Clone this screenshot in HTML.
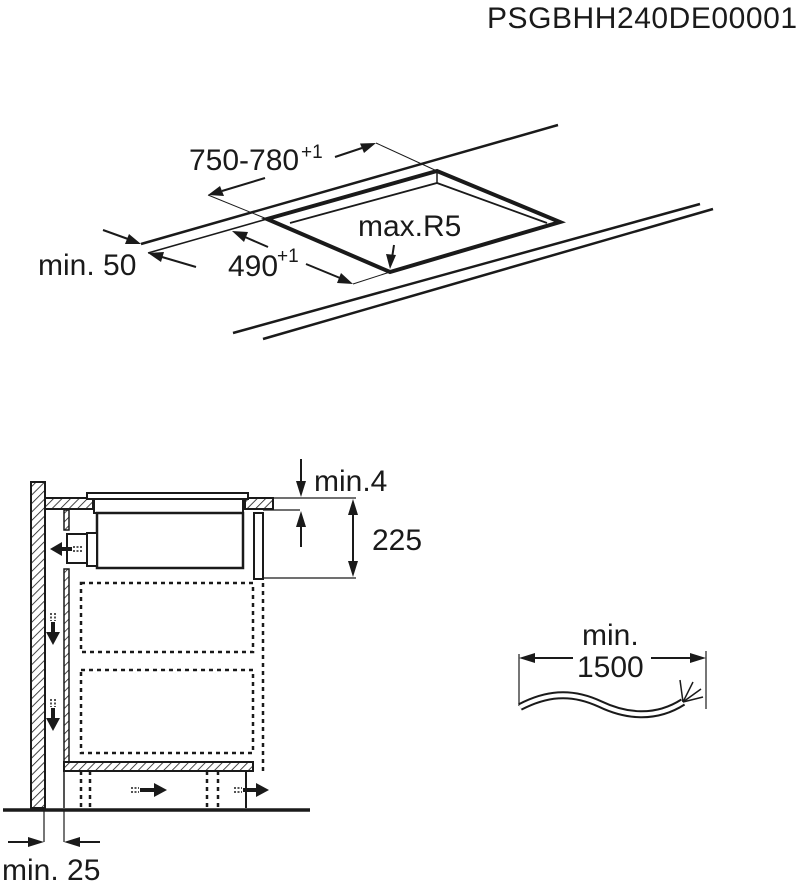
<!DOCTYPE html>
<html><head><meta charset="utf-8"><style>
html,body{margin:0;padding:0;background:#fff;}
svg{display:block;}
text{font-family:"Liberation Sans",Arial,sans-serif;fill:#1a1a1a;}
</style></head><body>
<svg width="800" height="883" viewBox="0 0 800 883" xmlns="http://www.w3.org/2000/svg">
<defs>
<pattern id="h" width="6" height="6" patternUnits="userSpaceOnUse" patternTransform="rotate(45)">
<rect width="6" height="6" fill="#fff"/><line x1="0" y1="0" x2="0" y2="6" stroke="#1a1a1a" stroke-width="1.6"/>
</pattern>
</defs>
<g stroke="#1a1a1a" fill="none" stroke-linecap="butt">
<text x="487" y="28" font-size="30" textLength="310" stroke="none">PSGBHH240DE00001</text>

<!-- top diagram -->
<line x1="141" y1="244" x2="558" y2="125" stroke-width="2.5"/>
<line x1="148" y1="253" x2="267" y2="219" stroke-width="1.5"/>
<line x1="233" y1="333" x2="700" y2="204" stroke-width="2.5"/>
<line x1="263" y1="339" x2="713" y2="209" stroke-width="2.5"/>
<polygon points="267,219 437,171 560,222 390,272" stroke-width="4" fill="#fff"/>
<polyline points="290,223 437,183 547,223" stroke-width="1.8"/>
<line x1="437" y1="171" x2="437" y2="183" stroke-width="1.5"/>
<line x1="208" y1="195" x2="267" y2="219" stroke-width="1"/>
<line x1="376" y1="143" x2="437" y2="171" stroke-width="1"/>
<line x1="390" y1="272" x2="353" y2="284" stroke-width="1"/>
<text x="189" y="170" font-size="30" stroke="none">750-780</text>
<text x="301" y="158" font-size="19" stroke="none">+1</text>
<text x="358" y="236" font-size="30" stroke="none">max.R5</text>
<text x="38" y="275" font-size="30" stroke="none">min. 50</text>
<text x="228" y="276" font-size="30" stroke="none">490</text>
<text x="277" y="262" font-size="19" stroke="none">+1</text>

<!-- lower diagram -->
<rect x="31" y="482" width="14" height="326" fill="url(#h)" stroke-width="2"/>
<rect x="45" y="498" width="48" height="11" fill="url(#h)" stroke-width="2"/>
<rect x="245" y="498" width="28" height="11" fill="url(#h)" stroke-width="2"/>
<rect x="87" y="493" width="161" height="6" fill="#fff" stroke-width="2"/>
<rect x="94" y="499" width="149" height="14" fill="#fff" stroke-width="2"/>
<rect x="97" y="513" width="146" height="55" fill="#fff" stroke-width="2.5"/>
<rect x="87" y="533" width="10" height="33" fill="#fff" stroke-width="2"/>
<rect x="67" y="534" width="20" height="29" fill="#fff" stroke-width="2"/>
<rect x="64" y="510" width="5" height="20" fill="url(#h)" stroke-width="1.5"/>
<rect x="64" y="569" width="5" height="193" fill="url(#h)" stroke-width="1.5"/>
<rect x="254" y="513" width="9" height="66" fill="#fff" stroke-width="2"/>
<g stroke-dasharray="4,4" stroke-width="2.5">
<rect x="81" y="583" width="172" height="69"/>
<rect x="81" y="670" width="172" height="83"/>
<line x1="263" y1="583" x2="263" y2="771"/>
<line x1="81" y1="771" x2="81" y2="808"/>
<line x1="90" y1="771" x2="90" y2="808"/>
<line x1="207" y1="771" x2="207" y2="808"/>
<line x1="218" y1="771" x2="218" y2="808"/>
</g>
<rect x="64" y="762" width="189" height="9" fill="url(#h)" stroke-width="2"/>
<line x1="64" y1="771" x2="64" y2="808" stroke-width="1.5"/>
<line x1="246" y1="771" x2="246" y2="808" stroke-width="2"/>
<line x1="3" y1="810" x2="310" y2="810" stroke-width="3.5"/>

<!-- min 25 -->
<line x1="44" y1="810" x2="44" y2="842" stroke-width="1.2"/>
<line x1="64" y1="810" x2="64" y2="842" stroke-width="1.2"/>
<line x1="8" y1="842" x2="30" y2="842" stroke-width="2"/>
<line x1="100" y1="842" x2="78" y2="842" stroke-width="2"/>
<text x="2" y="880" font-size="30" stroke="none">min. 25</text>
<!-- min.4 / 225 -->
<line x1="273" y1="498" x2="356" y2="498" stroke-width="1.2"/>
<line x1="263" y1="510" x2="300" y2="510" stroke-width="1.2"/>
<line x1="263" y1="578" x2="356" y2="578" stroke-width="1.2"/>
<line x1="301" y1="459" x2="301" y2="484" stroke-width="2"/>
<line x1="301" y1="547" x2="301" y2="524" stroke-width="2"/>
<line x1="353" y1="510" x2="353" y2="566" stroke-width="2"/>
<text x="314" y="491" font-size="30" stroke="none">min.4</text>
<text x="372" y="550" font-size="30" stroke="none">225</text>
<!-- cable -->
<line x1="519" y1="654" x2="519" y2="706" stroke-width="1.2"/>
<line x1="706" y1="651" x2="706" y2="709" stroke-width="1.2"/>
<line x1="573" y1="658" x2="533" y2="658" stroke-width="2"/>
<line x1="651" y1="658" x2="692" y2="658" stroke-width="2"/>
<text x="582" y="645" font-size="30" stroke="none">min.</text>
<text x="577" y="677" font-size="30" stroke="none">1500</text>
<path d="M520,707 C545,694 570,690 600,704 C625,716 655,720 683,702" stroke-width="8"/>
<path d="M520,707 C545,694 570,690 600,704 C625,716 655,720 683,702" stroke-width="4" stroke="#fff"/>
<line x1="683" y1="702" x2="680" y2="680" stroke-width="1.5"/>
<line x1="683" y1="702" x2="693" y2="682" stroke-width="1.5"/>
<line x1="683" y1="702" x2="701" y2="689" stroke-width="1.5"/>
<line x1="683" y1="702" x2="703" y2="697" stroke-width="1.5"/>

<!-- top diagram thin arrows (shafts) -->
<line x1="335" y1="157" x2="362" y2="148" stroke-width="2"/>
<line x1="265" y1="178" x2="222" y2="191" stroke-width="2"/>
<line x1="306" y1="264" x2="340" y2="278" stroke-width="2"/>
<line x1="268" y1="247" x2="245" y2="237" stroke-width="2"/>
<line x1="103" y1="230" x2="128" y2="239" stroke-width="2"/>
<line x1="196" y1="267" x2="162" y2="257" stroke-width="2"/>
<line x1="394" y1="245" x2="392" y2="258" stroke-width="2"/>
</g>

<!-- arrowheads as polygons -->
<g fill="#1a1a1a" stroke="none">
<!-- helper: tip, length 16, half width 5 -->
<polygon points="376,143 360,143.5 364,153"/>
<polygon points="208,195 220,186 224,196"/>
<polygon points="353,284 337,283 341,273"/>
<polygon points="232,231 248,232 244,242"/>
<polygon points="141,244 125,244 129,234"/>
<polygon points="148,253 164,252 161,262"/>
<polygon points="390,269 386,254 396,255"/>

<polygon points="44,842 28,837 28,847"/>
<polygon points="64,842 80,837 80,847"/>
<polygon points="301,497 296,481 306,481"/>
<polygon points="301,511 296,527 306,527"/>
<polygon points="353,499 348,515 358,515"/>
<polygon points="353,577 348,561 358,561"/>
<polygon points="519,658 535,653 535,663"/>
<polygon points="706,658 690,653 690,663"/>

<!-- flow arrows -->
<rect x="60" y="547" width="12" height="4"/>
<polygon points="50,549 62,542 62,556"/>
<rect x="51" y="622" width="4" height="12"/>
<polygon points="53,645 46,632 60,632"/>
<rect x="51" y="708" width="4" height="12"/>
<polygon points="53,731 46,718 60,718"/>
<rect x="140" y="788" width="14" height="4"/>
<polygon points="167,790 154,783 154,797"/>
<rect x="243" y="788" width="14" height="4"/>
<polygon points="269,790 256,783 256,797"/>
</g>
<g stroke="#1a1a1a" stroke-width="1.5">
<line x1="73" y1="547" x2="82" y2="547" stroke-dasharray="2,1.5"/>
<line x1="73" y1="551" x2="82" y2="551" stroke-dasharray="2,1.5"/>
<line x1="51" y1="613" x2="51" y2="621" stroke-dasharray="2,1.5"/>
<line x1="55" y1="613" x2="55" y2="621" stroke-dasharray="2,1.5"/>
<line x1="51" y1="699" x2="51" y2="707" stroke-dasharray="2,1.5"/>
<line x1="55" y1="699" x2="55" y2="707" stroke-dasharray="2,1.5"/>
<line x1="131" y1="788" x2="139" y2="788" stroke-dasharray="2,1.5"/>
<line x1="131" y1="792" x2="139" y2="792" stroke-dasharray="2,1.5"/>
<line x1="234" y1="788" x2="242" y2="788" stroke-dasharray="2,1.5"/>
<line x1="234" y1="792" x2="242" y2="792" stroke-dasharray="2,1.5"/>
</g>
</svg>
</body></html>
